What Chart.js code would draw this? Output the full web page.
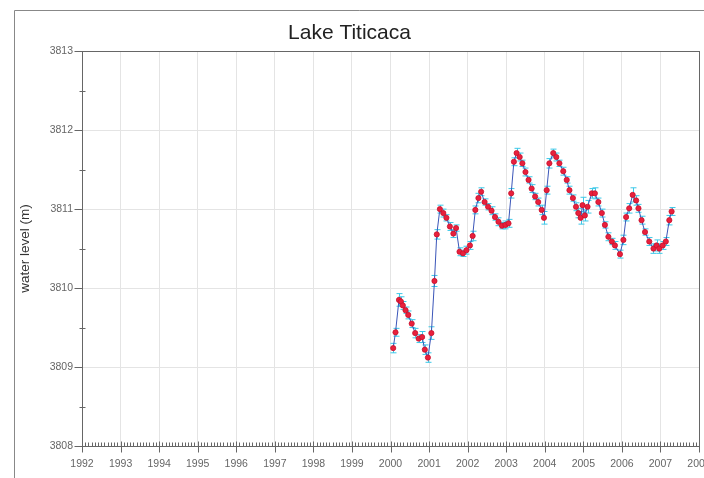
<!DOCTYPE html>
<html>
<head>
    <title>Lake Titicaca</title>
    <script src="https://cdn.jsdelivr.net/npm/chart.js@4"></script>
    <style>
        body { margin: 0; background: #fff; }
    </style>
</head>
<body>
    <canvas id="levelChart" width="704" height="478"></canvas>
    <script>
        // decimal years of each altimetry sample
        var years = [
            2000.07, 2000.13, 2000.22, 2000.27, 2000.32, 2000.39, 2000.46, 2000.55, 2000.64, 2000.73, 2000.82, 2000.89, 2000.97,
            2001.06, 2001.14, 2001.20, 2001.28, 2001.37, 2001.45, 2001.54, 2001.63, 2001.70, 2001.79, 2001.88, 2001.97,
            2002.06, 2002.13, 2002.20, 2002.28, 2002.35, 2002.44, 2002.53, 2002.62, 2002.71, 2002.80, 2002.89, 2002.98,
            2003.06, 2003.13, 2003.20, 2003.27, 2003.35, 2003.42, 2003.50, 2003.58, 2003.66, 2003.75, 2003.83, 2003.92, 2003.98,
            2004.05, 2004.12, 2004.22, 2004.30, 2004.38, 2004.48, 2004.57, 2004.64, 2004.73, 2004.81, 2004.87, 2004.93, 2004.98,
            2005.04, 2005.11, 2005.22, 2005.30, 2005.39, 2005.48, 2005.56, 2005.65, 2005.74, 2005.82, 2005.95,
            2006.04, 2006.11, 2006.19, 2006.28, 2006.37, 2006.43, 2006.51, 2006.60, 2006.71, 2006.82, 2006.90, 2006.97,
            2007.06, 2007.14, 2007.23, 2007.29
        ];
        // water level (m)
        var levels = [
            3809.24, 3809.44, 3809.85, 3809.83, 3809.78, 3809.72, 3809.66, 3809.55, 3809.43, 3809.36, 3809.38, 3809.22, 3809.12,
            3809.43, 3810.09, 3810.68, 3811.00, 3810.95, 3810.89, 3810.78, 3810.69, 3810.76, 3810.46, 3810.44, 3810.48,
            3810.54, 3810.66, 3810.99, 3811.14, 3811.22, 3811.09, 3811.03, 3810.98, 3810.90, 3810.84, 3810.79, 3810.80,
            3810.82, 3811.20, 3811.60, 3811.71, 3811.66, 3811.58, 3811.47, 3811.37, 3811.26, 3811.16, 3811.09, 3810.99, 3810.89,
            3811.24, 3811.58, 3811.71, 3811.66, 3811.58, 3811.48, 3811.37, 3811.24, 3811.14, 3811.03, 3810.95, 3810.89, 3811.05,
            3810.92, 3811.03, 3811.20, 3811.20, 3811.09, 3810.95, 3810.80, 3810.65, 3810.59, 3810.54, 3810.43,
            3810.61, 3810.90, 3811.01, 3811.18, 3811.11, 3811.01, 3810.86, 3810.71, 3810.59, 3810.50, 3810.54, 3810.50,
            3810.54, 3810.59, 3810.86, 3810.97
        ];
        // error bar half-height (m)
        var errors = [
            0.06, 0.05, 0.08, 0.06, 0.05, 0.04, 0.05, 0.05, 0.06, 0.05, 0.07, 0.06, 0.06,
            0.08, 0.07, 0.06, 0.05, 0.05, 0.04, 0.05, 0.05, 0.04, 0.05, 0.04, 0.05,
            0.05, 0.06, 0.05, 0.06, 0.05, 0.04, 0.04, 0.05, 0.04, 0.05, 0.04, 0.05,
            0.05, 0.06, 0.05, 0.06, 0.05, 0.04, 0.05, 0.04, 0.05, 0.04, 0.05, 0.06, 0.08,
            0.05, 0.06, 0.05, 0.05, 0.04, 0.05, 0.04, 0.05, 0.04, 0.05, 0.06, 0.08, 0.10,
            0.07, 0.08, 0.06, 0.07, 0.05, 0.05, 0.04, 0.05, 0.04, 0.05, 0.05,
            0.06, 0.05, 0.06, 0.09, 0.06, 0.05, 0.05, 0.04, 0.05, 0.06, 0.07, 0.06,
            0.05, 0.05, 0.06, 0.05
        ];
        var yearMin = 1992, yearMax = 2008;
        var levelMin = 3808, levelMax = 3813;

        var points = years.map(function(y, i) {
            return { x: y, y: levels[i] };
        });

        var axisColor = '#666';

        // cyan error bars under the points
        var errorBars = {
            id: 'errorBars',
            beforeDatasetsDraw: function(chart) {
                var ctx = chart.ctx, xs = chart.scales.x, ys = chart.scales.y;
                ctx.save();
                ctx.strokeStyle = '#3cc8e8';
                ctx.lineWidth = 1;
                for (var i = 0; i < years.length; i++) {
                    var px = Math.round(xs.getPixelForValue(years[i])) + 0.5;
                    var top = ys.getPixelForValue(levels[i] + errors[i]);
                    var bot = ys.getPixelForValue(levels[i] - errors[i]);
                    ctx.beginPath();
                    ctx.moveTo(px, top); ctx.lineTo(px, bot);
                    ctx.moveTo(px - 3, top); ctx.lineTo(px + 3, top);
                    ctx.moveTo(px - 3, bot); ctx.lineTo(px + 3, bot);
                    ctx.stroke();
                }
                ctx.restore();
            }
        };

        // outer frame, plot box and tick marks
        var frame = {
            id: 'frame',
            afterDraw: function(chart) {
                var ctx = chart.ctx, a = chart.chartArea;
                var xs = chart.scales.x, ys = chart.scales.y;
                ctx.save();
                ctx.strokeStyle = '#888';
                ctx.lineWidth = 1;
                ctx.beginPath();
                ctx.moveTo(14.5, chart.height); ctx.lineTo(14.5, 10.5); ctx.lineTo(chart.width, 10.5);
                ctx.stroke();

                ctx.strokeStyle = axisColor;
                ctx.strokeRect(Math.round(a.left) + 0.5, Math.round(a.top) + 0.5,
                    Math.round(a.right - a.left), Math.round(a.bottom - a.top));

                var b = Math.round(a.bottom) + 0.5, l = Math.round(a.left) + 0.5;
                ctx.beginPath();
                for (var m = 0; m <= (yearMax - yearMin) * 12; m++) {
                    var px = Math.round(xs.getPixelForValue(yearMin + m / 12)) + 0.5;
                    if (m % 12 === 0) {
                        ctx.moveTo(px, b - 5); ctx.lineTo(px, b + 6);
                    } else {
                        ctx.moveTo(px, b - 4); ctx.lineTo(px, b);
                    }
                }
                for (var v = levelMin; v <= levelMax; v += 0.5) {
                    var py = Math.round(ys.getPixelForValue(v)) + 0.5;
                    if (v % 1 === 0) {
                        ctx.moveTo(l - 8, py); ctx.lineTo(l, py);
                    } else {
                        ctx.moveTo(l - 3, py); ctx.lineTo(l + 3, py);
                    }
                }
                ctx.stroke();
                ctx.restore();
            }
        };

        var ctx = document.getElementById('levelChart').getContext('2d');
        var levelChart = new Chart(ctx, {
            type: 'line',
            data: {
                datasets: [{
                    label: 'water level',
                    data: points,
                    borderColor: '#3a55b8',
                    borderWidth: 1,
                    tension: 0,
                    pointRadius: 2.6,
                    pointBackgroundColor: '#e8203c',
                    pointBorderColor: '#c8102c',
                    pointBorderWidth: 0.8
                }]
            },
            options: {
                responsive: false,
                animation: false,
                devicePixelRatio: 1,
                layout: { padding: { left: 0, right: 5, top: 0, bottom: 0 } },
                plugins: {
                    legend: { display: false },
                    tooltip: { enabled: false },
                    title: {
                        display: true,
                        text: 'Lake Titicaca',
                        color: '#222',
                        font: { family: 'Liberation Sans', size: 21, weight: 'normal' },
                        padding: { top: 21, bottom: 5 }
                    }
                },
                scales: {
                    x: {
                        type: 'linear',
                        min: yearMin,
                        max: yearMax,
                        afterFit: function(scale) {
                            scale.height = 32;
                            scale.paddingRight = 0;
                            scale.paddingLeft = 0;
                        },
                        ticks: {
                            stepSize: 1,
                            autoSkip: false,
                            maxRotation: 0,
                            padding: 12,
                            color: '#666',
                            font: { family: 'Liberation Sans', size: 10.5 },
                            callback: function(v) { return String(v); }
                        },
                        grid: { color: '#e4e4e4', drawTicks: false },
                        border: { display: false }
                    },
                    y: {
                        min: levelMin,
                        max: levelMax,
                        afterFit: function(scale) {
                            scale.width = 82;
                        },
                        ticks: {
                            stepSize: 1,
                            padding: 9,
                            color: '#666',
                            font: { family: 'Liberation Sans', size: 10.5 },
                            callback: function(v) { return String(v); }
                        },
                        grid: { color: '#e4e4e4', drawTicks: false },
                        border: { display: false },
                        title: {
                            display: true,
                            text: 'water level (m)',
                            color: '#333',
                            font: { family: 'Liberation Sans', size: 13.5 },
                            padding: { top: 17, bottom: 0 }
                        }
                    }
                }
            },
            plugins: [errorBars, frame]
        });
    </script>
</body>
</html>
